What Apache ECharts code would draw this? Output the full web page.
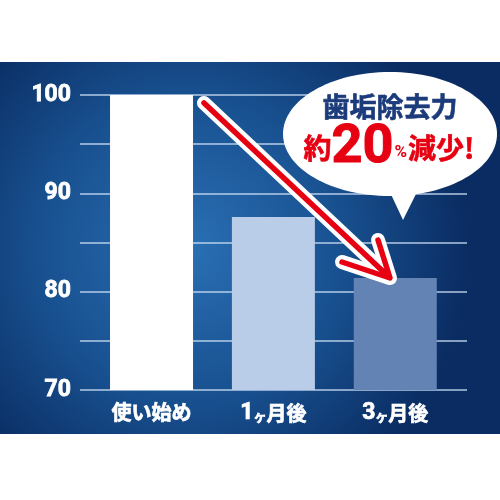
<!DOCTYPE html>
<html><head><meta charset="utf-8">
<script src="https://cdn.jsdelivr.net/npm/echarts@6/dist/echarts.min.js"></script>
<style>html,body{margin:0;padding:0;background:#fff}#c{width:500px;height:500px}</style>
</head><body><div id="c"></div>
<script>
const categories = ['使い始め', '1ヶ月後', '3ヶ月後'];
const values = [100, 87.6, 81.4];
const barColors = ['#ffffff', '#b9cde9', '#6383b4'];
const yMin = 70, yMax = 100, yStep = 5, yLabelStep = 10;
const bubbleTitle = '歯垢除去力';
const bubbleLine = ['約', '20', '%', '減少!'];

const FONT = "'Noto Sans CJK JP', sans-serif";
const NUMFONT = "Roboto, 'Noto Sans CJK JP', sans-serif";
const chart = echarts.init(document.getElementById('c'));
const red = '#e60012';
const navy = '#1c3b7b';
const option = {
  animation: false,
  backgroundColor: '#ffffff',
  grid: [
    {left: 80, right: 33, top: 95, bottom: 110},
    {left: 90.6, right: 43.8, top: 95, bottom: 110}
  ],
  xAxis: [
    {type: 'category', gridIndex: 0, data: categories, show: false},
    {type: 'category', gridIndex: 1, data: categories,
     axisLine: {show: false}, axisTick: {show: false},
     axisLabel: {interval: 0, hideOverlap: false, color: '#fff', fontSize: 20, fontWeight: 'bold', fontFamily: FONT, margin: 12,
       textBorderColor: '#fff', textBorderWidth: 0.7,
       formatter: v => v.replace(/^(\d)ヶ/, '{n|$1}{s|ヶ}'),
       rich: {
         n: {fontSize: 23, fontWeight: 'bold', color: '#fff', fontFamily: NUMFONT, textBorderColor: '#fff', textBorderWidth: 0.7},
         s: {fontSize: 13, fontWeight: 'bold', color: '#fff', fontFamily: FONT, padding: [5, 0, 0, 0]}}}}
  ],
  yAxis: [
    {type: 'value', gridIndex: 0, min: yMin, max: yMax, interval: yStep,
     axisLine: {show: false}, axisTick: {show: false},
     splitLine: {lineStyle: {color: 'rgba(205,222,245,0.65)', width: 2}},
     axisLabel: {color: '#fff', fontSize: 23, fontWeight: 'bold', fontFamily: NUMFONT, margin: 9,
       textBorderColor: '#fff', textBorderWidth: 0.8,
       formatter: v => (v % yLabelStep === 0 ? String(v) : '')}},
    {type: 'value', gridIndex: 1, min: yMin, max: yMax, interval: yStep, show: false}
  ],
  series: [{
    type: 'bar', xAxisIndex: 1, yAxisIndex: 1, barWidth: 83,
    data: values.map((v, i) => ({value: v, itemStyle: {color: barColors[i]}}))
  }],
  graphic: [
    {type: 'rect', z: -10, silent: true, shape: {x: 0, y: 62, width: 500, height: 372},
     style: {fill: new echarts.graphic.RadialGradient(0.38, 0.5, 0.75, [
       {offset: 0, color: '#2a6fb4'}, {offset: 0.55, color: '#18508f'}, {offset: 1, color: '#0a2c62'}])}},
    {type: 'polyline', z: 100, shape: {points: [[204, 103], [389, 277]]},
     style: {stroke: '#fff', lineWidth: 14, lineCap: 'round', lineJoin: 'round', fill: null}},
    {type: 'polyline', z: 100, shape: {points: [[342, 262], [390, 278], [378, 240]]},
     style: {stroke: '#fff', lineWidth: 14, lineCap: 'round', lineJoin: 'round', fill: null}},
    {type: 'polyline', z: 101, shape: {points: [[204, 103], [389, 277]]},
     style: {stroke: red, lineWidth: 5.5, lineCap: 'round', lineJoin: 'round', fill: null}},
    {type: 'polyline', z: 101, shape: {points: [[342, 262], [390, 278], [378, 240]]},
     style: {stroke: red, lineWidth: 5.5, lineCap: 'round', lineJoin: 'round', fill: null}},
    {type: 'polygon', z: 102, shape: {points: [[388, 188], [420, 186], [403, 220]]}, style: {fill: '#fff'}},
    {type: 'ellipse', z: 102, shape: {cx: 390, cy: 134, rx: 107, ry: 62}, style: {fill: '#fff'}},
    {type: 'text', z: 103, x: 390, y: 107,
     style: {text: bubbleTitle, fill: navy, font: "bold 27px 'Noto Sans CJK JP', sans-serif",
       stroke: navy, lineWidth: 0.6,
       align: 'center', verticalAlign: 'middle'}},
    {type: 'text', z: 103, x: 389, y: 148,
     style: {text: '{a|' + bubbleLine[0] + '}{b|' + bubbleLine[1] + '}{c|' + bubbleLine[2] + '}{a|' + bubbleLine[3] + '}',
       align: 'center', verticalAlign: 'middle',
       rich: {
         a: {fill: red, font: "bold 28px 'Noto Sans CJK JP', sans-serif", stroke: red, lineWidth: 0.6},
         b: {fill: red, font: "bold 54px Roboto, sans-serif", stroke: red, lineWidth: 1},
         c: {fill: red, font: "bold 17px Roboto, sans-serif", padding: [9, 1, 0, 1]}
       }}}
  ]
};
chart.setOption(option);
</script></body></html>
